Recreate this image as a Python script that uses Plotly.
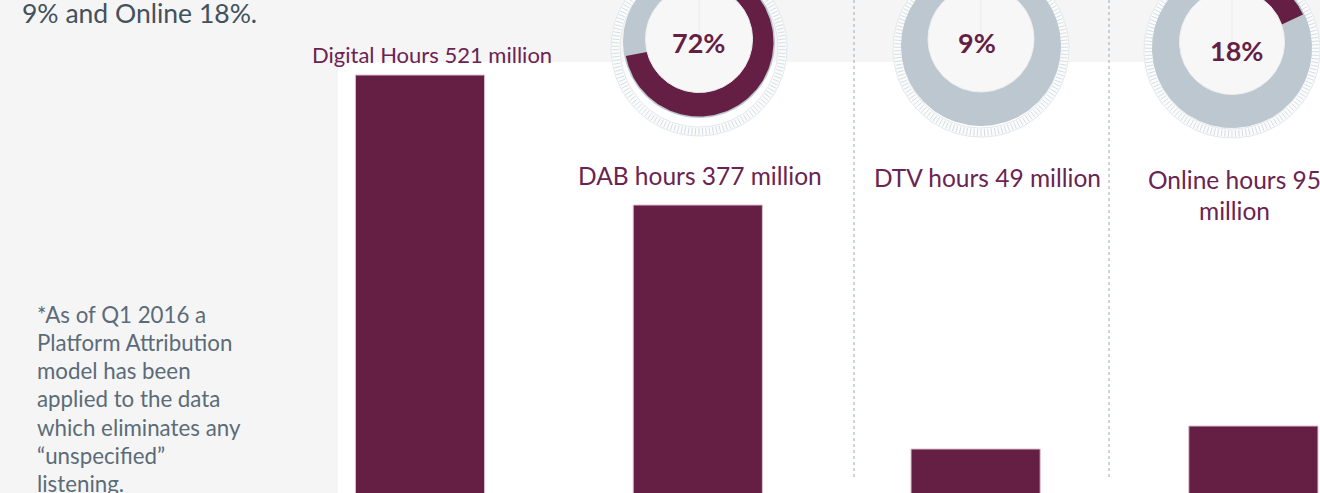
import numpy as np
import plotly.graph_objects as go

# ---------------- data ----------------
categories = ["Digital Hours", "DAB hours", "DTV hours", "Online hours"]
hours_million = [521, 377, 49, 95]
share_platforms = ["DAB", "DTV", "Online"]
share_pct = [72, 9, 18]
headline_tail = "9% and Online 18%."
footnote_lines = ["*As of Q1 2016 a", "Platform Attribution", "model has been",
                  "applied to the data", "which eliminates any", "\u201cunspecified\u201d",
                  "listening."]

# ---------------- style / layout ----------------
W, H = 1320, 493
MAROON = "#651f45"
LABEL = "#6b2352"
RING = "#bcc7cf"
FONT = "Lato"

fig = go.Figure()

# white panel behind the bars
fig.add_shape(type="rect", xref="paper", yref="paper", x0=338 / W, x1=1.0,
              y0=0, y1=1 - 62 / H, fillcolor="white", line_width=0, layer="below")

# bars: totals on the primary axis, small platforms on an overlaid axis
bar_style = dict(color=MAROON, line=dict(color="#dcbfd0", width=1))
fig.add_trace(go.Bar(x=categories[:2], y=hours_million[:2], width=0.465,
                     marker=bar_style, xaxis="x", yaxis="y", hoverinfo="skip"))
fig.add_trace(go.Bar(x=categories[2:], y=hours_million[2:], width=0.465,
                     marker=bar_style, xaxis="x", yaxis="y2", hoverinfo="skip"))

# ---------------- donuts (pixel-space overlay axes) ----------------
geom = [
    dict(cx=699, cy=42, rg=76, ci=39, ri=53.5, ct=48, tx=698, ty=42),
    dict(cx=981, cy=46, rg=80, ci=39, ri=53, ct=49, tx=977, ty=42),
    dict(cx=1232, cy=48, rg=80, ci=42, ri=52.5, ct=50, tx=1236, ty=50),
]


def ring_path(cx, cy, r_in, r_out, a0, a1, n=240):
    t = np.linspace(a0, a1, n)
    xo = cx + r_out * np.sin(t)
    yo = cy - r_out * np.cos(t)
    xi = cx + r_in * np.sin(t[::-1])
    yi = cy - r_in * np.cos(t[::-1])
    return np.concatenate([xo, xi, xo[:1]]), np.concatenate([yo, yi, yo[:1]])


def add_fill(xs, ys, color, line=None):
    fig.add_trace(go.Scatter(x=xs, y=ys, mode="lines", fill="toself", fillcolor=color,
                             line=line or dict(width=0, color=color),
                             xaxis="x2", yaxis="y3", hoverinfo="skip"))


for g, pct in zip(geom, share_pct):
    # tick ring
    xs, ys = ring_path(g["cx"], g["ct"], 79, 88, 0, 2 * np.pi)
    add_fill(xs, ys, "#fbfcfc", dict(width=1, color="#e3e8ec"))
    tx, ty = [], []
    for a in np.arange(0, 2 * np.pi, 2 * np.pi / 150):
        tx += [g["cx"] + 80 * np.sin(a), g["cx"] + 87 * np.sin(a), None]
        ty += [g["ct"] - 80 * np.cos(a), g["ct"] - 87 * np.cos(a), None]
    fig.add_trace(go.Scatter(x=tx, y=ty, mode="lines", line=dict(color="#d6dde3", width=1),
                             xaxis="x2", yaxis="y3", hoverinfo="skip"))
    # grey track
    xs, ys = ring_path(g["cx"], g["cy"], 0, g["rg"], 0, 2 * np.pi)
    add_fill(xs, ys, RING)
    # share arc
    xs, ys = ring_path(g["cx"], g["cy"], 45, g["rg"] - 1.5, 0, 2 * np.pi * pct / 100)
    add_fill(xs, ys, MAROON)
    # centre disc
    xs, ys = ring_path(g["cx"], g["ci"], 0, g["ri"], 0, 2 * np.pi)
    add_fill(xs, ys, "#f7f7f7", dict(width=1, color="#eeeeee"))

annotations = []
for g, pct in zip(geom, share_pct):
    annotations.append(dict(x=g["tx"], y=g["ty"], xref="x2", yref="y3", text=f"<b>{pct}%</b>",
                            showarrow=False, font=dict(family=FONT, size=27, color=MAROON),
                            xanchor="center", yanchor="middle"))

# bar labels
label_pos = [(432, [54], 22), (700, [175], 24.5), (987, [177], 24.5), (1234, [179, 210], 24.5)]
for name, val, (lx, lys, fs) in zip(categories, hours_million, label_pos):
    full = f"{name} {val} million"
    lines = [full] if len(lys) == 1 else [full.rsplit(" ", 1)[0], full.rsplit(" ", 1)[1]]
    for line, ly in zip(lines, lys):
        annotations.append(dict(x=lx, y=ly, xref="x2", yref="y3", text=line, showarrow=False,
                                font=dict(family=FONT, size=fs, color=LABEL),
                                xanchor="center", yanchor="middle"))

# headline tail
annotations.append(dict(x=20, y=13, xref="x2", yref="y3", text=headline_tail, showarrow=False,
                        font=dict(family=FONT, size=26.5, color="#43515d"),
                        xanchor="left", yanchor="middle"))
# footnote
for i, line in enumerate(footnote_lines):
    annotations.append(dict(x=35, y=314 + 28.3 * i, xref="x2", yref="y3", text=line,
                            showarrow=False, font=dict(family=FONT, size=22.3, color="#5b6b78"),
                            xanchor="left", yanchor="middle"))

# dotted separators
shapes = []
for sx in [556, 854, 1109]:
    shapes.append(dict(type="line", xref="x2", yref="y3", x0=sx, x1=sx, y0=0, y1=479,
                       line=dict(color="#a9b7c3", width=1.2, dash="dot"), layer="below"))

# axis ranges from pixel geometry
s1 = (hours_million[0] - hours_million[1]) / 130.0   # value per px
y_rng = [hours_million[0] - (493 - 75) * s1, hours_million[0] + 75 * s1]
k2 = 23.0 / (np.log10(hours_million[3]) - np.log10(hours_million[2]))
y2_rng = [np.log10(hours_million[2]) - 44 / k2, np.log10(hours_million[2]) + 449 / k2]
x_rng = [-420 / 277.8, (1320 - 420) / 277.8]

fig.update_layout(
    width=W, height=H, margin=dict(l=0, r=0, t=0, b=0),
    paper_bgcolor="#f5f5f5", plot_bgcolor="rgba(0,0,0,0)",
    showlegend=False, hovermode=False, barmode="overlay",
    xaxis=dict(type="category", categoryorder="array", categoryarray=categories,
               range=x_rng, domain=[0, 1], visible=False, fixedrange=True),
    yaxis=dict(range=y_rng, domain=[0, 1], visible=False, fixedrange=True),
    yaxis2=dict(type="log", range=y2_rng, overlaying="y", anchor="x", visible=False, fixedrange=True),
    xaxis2=dict(range=[0, W], overlaying="x", anchor="y3", visible=False, fixedrange=True),
    yaxis3=dict(range=[H, 0], overlaying="y", anchor="x2", visible=False, fixedrange=True),
    annotations=annotations, shapes=shapes,
)

fig.write_html("out.html", config={"displayModeBar": False},
               post_script="document.body.style.margin='0';document.body.style.overflow='hidden';")
